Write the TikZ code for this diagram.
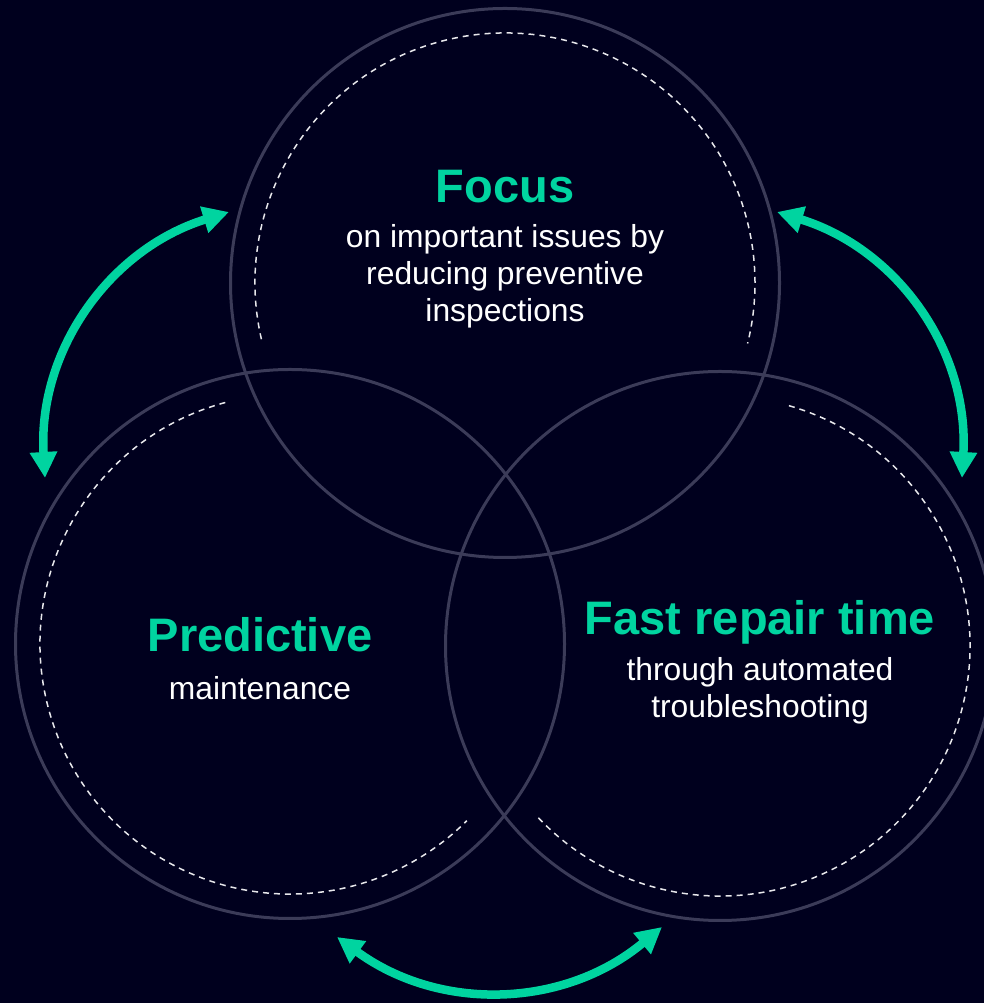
\documentclass[tikz,border=0pt]{standalone}
\usepackage{fontspec}
\setmainfont{Liberation Sans}
\usepackage{xcolor}
\usepackage{tikz}
\usetikzlibrary{arrows.meta,positioning}
\definecolor{bgnavy}{HTML}{00001E}
\definecolor{ringgray}{HTML}{3B3B58}
\definecolor{mint}{HTML}{00D4A0}

\begin{document}
\begin{tikzpicture}[
  x=1pt, y=1pt,
  ring/.style={circle, draw=ringgray, line width=3pt, minimum size=549pt, inner sep=0pt},
  guide/.style={draw=white!88!ringgray, line width=1.5pt, dash pattern=on 6pt off 5pt},
  head/.style={text=mint, font=\fontsize{47}{56}\selectfont\bfseries, inner sep=0pt, anchor=base},
  body/.style={text=white, font=\fontsize{31.8}{37}\selectfont, align=center, inner sep=0pt, anchor=north},
  swap/.style={{Triangle[length=26pt,width=26pt]}-{Triangle[length=26pt,width=26pt]}, line width=8.5pt, draw=mint}
]
  \fill[bgnavy] (0,0) rectangle (984,1003);
  \useasboundingbox (0,0) rectangle (984,1003);

  \node[ring] (topring) at (505,720) {};
  \node[ring] (leftring) at (290,359) {};
  \node[ring] (rightring) at (720,357) {};

  \draw[guide] ([shift={(193:250)}]topring.center) arc[start angle=193, end angle=-14, radius=250];
  \draw[guide] ([shift={(105:250)}]leftring.center) arc[start angle=105, end angle=315, radius=250];
  \draw[guide] ([shift={(74:250)}]rightring.center) arc[start angle=74, end angle=-137, radius=250];

  \node[head] (focus) at (505,800) {Focus};
  \node[body] (focustxt) at (505,779) {on important issues by\\reducing preventive\\inspections};
  \node[head] (predict) at (260,351) {Predictive};
  \node[body] (predicttxt) at (260,327) {maintenance};
  \node[head] (repair) at (760,368) {Fast repair time};
  \node[body] (repairtxt) at (760,346) {through automated\\troubleshooting};

  \coordinate (leftlow) at (45,525);
  \coordinate (lefthigh) at (229,791);
  \coordinate (righthigh) at (777,791);
  \coordinate (rightlow) at (962,525);
  \coordinate (botleft) at (337,66);
  \coordinate (botright) at (662,76);

  \draw[swap] (leftlow) to[bend left=38] (lefthigh);
  \draw[swap] (righthigh) to[bend left=38] (rightlow);
  \draw[swap] (botleft) to[bend right=38] (botright);
\end{tikzpicture}
\end{document}
